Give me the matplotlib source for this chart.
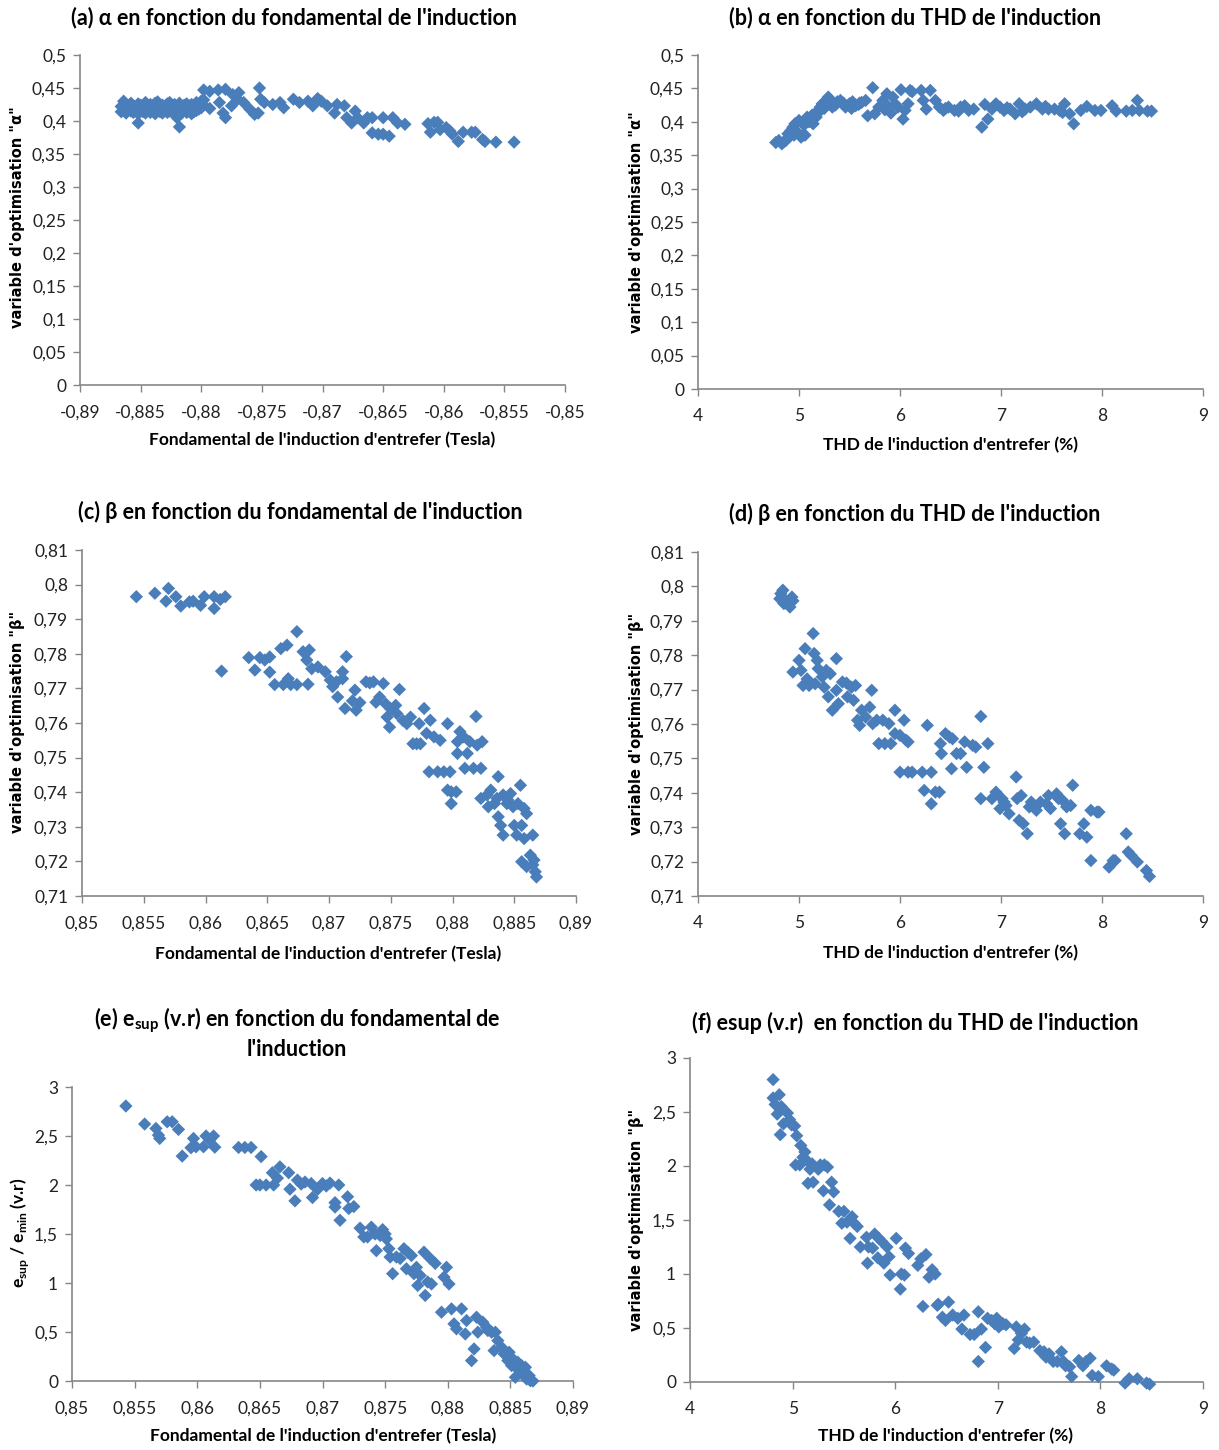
import matplotlib
matplotlib.use("Agg")
from matplotlib import pyplot as plt
from matplotlib.ticker import FuncFormatter, MultipleLocator

plt.rcParams["font.family"] = ["Lato", "DejaVu Sans"]
plt.rcParams["mathtext.fontset"] = "custom"
plt.rcParams["mathtext.rm"] = "Lato"
plt.rcParams["mathtext.bf"] = "Lato:bold"

W, H = 1219, 1450
BLUE = "#4a7ebb"
GRAY = "#868686"

# (a) alpha vs fundamental (negative)
a_fund = [-0.8866, -0.8864, -0.8862, -0.8860, -0.8858, -0.8856, -0.8854, -0.8852, -0.8850, -0.8848,
          -0.8846, -0.8844, -0.8842, -0.8840, -0.8838, -0.8836, -0.8834, -0.8832, -0.8830, -0.8828,
          -0.8826, -0.8824, -0.8822, -0.8820, -0.8818, -0.8816, -0.8814, -0.8812, -0.8810, -0.8808,
          -0.8806, -0.8804, -0.8802, -0.8800, -0.8798,
          -0.8866, -0.8864, -0.8862, -0.8860, -0.8858, -0.8856, -0.8854, -0.8852, -0.8850, -0.8848,
          -0.8846, -0.8844, -0.8842, -0.8840, -0.8838, -0.8836, -0.8834, -0.8832, -0.8830, -0.8828,
          -0.8826, -0.8824, -0.8822, -0.8820, -0.8818, -0.8816, -0.8814, -0.8812, -0.8810, -0.8808,
          -0.8806, -0.8804, -0.8802, -0.8800, -0.8798,
          -0.8852, -0.8818, -0.8820,
          -0.8798, -0.8793, -0.8786, -0.8780, -0.8774, -0.8769, -0.8793, -0.8785, -0.8782, -0.8780,
          -0.8775, -0.8770, -0.8765, -0.8760, -0.8756, -0.8753, -0.8752, -0.8751, -0.8748, -0.8741,
          -0.8735, -0.8732, -0.8724, -0.8719, -0.8712, -0.8708, -0.8704, -0.8701, -0.8696, -0.8690,
          -0.8688, -0.8682, -0.8680, -0.8676, -0.8673, -0.8671, -0.8666, -0.8663, -0.8659, -0.8659,
          -0.8654, -0.8650, -0.8650, -0.8645, -0.8642, -0.8638, -0.8632, -0.8613, -0.8611, -0.8608,
          -0.8605, -0.8603, -0.8598, -0.8595, -0.8593, -0.8588, -0.8584, -0.8577, -0.8574, -0.8568,
          -0.8566, -0.8557, -0.8542]
a_alpha = [0.422, 0.430, 0.425, 0.421, 0.427, 0.423, 0.420, 0.426, 0.424, 0.422,
           0.428, 0.421, 0.425, 0.423, 0.427, 0.429, 0.422, 0.424, 0.421, 0.426,
           0.428, 0.423, 0.425, 0.422, 0.427, 0.420, 0.424, 0.426, 0.423, 0.425,
           0.421, 0.428, 0.426, 0.430, 0.432,
           0.414, 0.416, 0.412, 0.418, 0.415, 0.413, 0.417, 0.411, 0.416, 0.414,
           0.412, 0.418, 0.413, 0.415, 0.411, 0.417, 0.414, 0.412, 0.416, 0.413,
           0.415, 0.418, 0.411, 0.414, 0.416, 0.412, 0.417, 0.413, 0.415, 0.411,
           0.414, 0.416, 0.418, 0.420, 0.424,
           0.397, 0.391, 0.405,
           0.447, 0.445, 0.447, 0.448, 0.440, 0.443, 0.419, 0.428, 0.412, 0.405,
           0.423, 0.433, 0.428, 0.418, 0.410, 0.412, 0.450, 0.433, 0.428, 0.425,
           0.428, 0.420, 0.433, 0.428, 0.430, 0.423, 0.434, 0.430, 0.423, 0.412,
           0.425, 0.423, 0.405, 0.397, 0.415, 0.405, 0.397, 0.405, 0.405, 0.382,
           0.380, 0.405, 0.380, 0.377, 0.405, 0.397, 0.395, 0.396, 0.383, 0.398,
           0.398, 0.387, 0.390, 0.385, 0.380, 0.369, 0.383, 0.383, 0.383, 0.372,
           0.369, 0.368, 0.368]

# (b) alpha vs THD
b_thd = [4.77, 4.80, 4.83, 4.85, 4.87, 4.89, 4.90, 4.92, 4.94, 4.96, 4.98, 5.00, 5.02, 5.04, 5.06,
         5.08, 5.10, 5.12, 5.14, 5.16, 5.17, 5.19, 5.21, 5.23, 5.25, 5.27, 5.29, 5.31, 5.33, 5.35,
         5.38, 5.41, 5.44, 5.46, 5.50, 5.53, 5.56, 5.59, 5.62, 5.66, 5.68, 5.73, 5.75, 5.79, 5.83,
         5.87, 5.89, 5.93, 5.95, 5.98, 6.01, 6.03, 6.05, 6.08, 6.10, 6.12, 6.21, 6.23, 6.26, 6.30,
         6.35, 6.39, 6.43, 6.48, 6.54, 6.60, 6.64, 6.68, 6.73, 6.81, 6.84, 6.87, 6.91, 6.95, 6.99,
         7.03, 7.09, 7.14, 7.18, 7.24, 7.29, 7.35, 7.41, 7.47, 7.53, 7.58, 7.63, 7.68, 7.72, 7.79,
         7.85, 7.93, 7.99, 8.10, 8.14, 8.24, 8.30, 8.35, 8.37, 8.45, 8.49,
         4.95, 5.05, 5.13, 5.22, 5.30, 5.36, 5.52, 5.60, 5.85, 5.91, 6.45, 6.58, 7.06, 7.21, 7.44, 7.61]
b_alpha = [0.369, 0.372, 0.367, 0.370, 0.372, 0.382, 0.377, 0.387, 0.392, 0.397, 0.385, 0.402, 0.377, 0.380, 0.380,
           0.407, 0.400, 0.405, 0.397, 0.412, 0.407, 0.417, 0.422, 0.427, 0.420, 0.432, 0.437, 0.428, 0.422, 0.427,
           0.430, 0.432, 0.428, 0.422, 0.427, 0.430, 0.424, 0.426, 0.429, 0.432, 0.409, 0.451, 0.412, 0.422, 0.432,
           0.442, 0.422, 0.437, 0.427, 0.422, 0.448, 0.404, 0.417, 0.427, 0.447, 0.445, 0.447, 0.432, 0.419, 0.447,
           0.432, 0.422, 0.417, 0.422, 0.417, 0.422, 0.424, 0.417, 0.419, 0.392, 0.426, 0.404, 0.419, 0.427, 0.422,
           0.417, 0.419, 0.412, 0.427, 0.419, 0.422, 0.427, 0.419, 0.419, 0.419, 0.417, 0.427, 0.412, 0.397, 0.417,
           0.423, 0.417, 0.417, 0.424, 0.416, 0.416, 0.417, 0.432, 0.417, 0.416, 0.416,
           0.380, 0.395, 0.410, 0.418, 0.433, 0.425, 0.420, 0.428, 0.418, 0.413, 0.420, 0.416, 0.421, 0.415, 0.423, 0.414]

# (c) beta vs fundamental
c_fund = [0.8544, 0.8559, 0.8568, 0.8570, 0.8576, 0.8580, 0.8587, 0.8590, 0.8596, 0.8599, 0.8607, 0.8607,
          0.8612, 0.8616, 0.8613, 0.8635, 0.8640, 0.8644, 0.8648, 0.8652, 0.8652, 0.8656, 0.8661, 0.8666,
          0.8663, 0.8667, 0.8669, 0.8674, 0.8674, 0.8679, 0.8682, 0.8683, 0.8684, 0.8686, 0.8691, 0.8697,
          0.8701, 0.8703, 0.8706, 0.8707, 0.8711, 0.8711, 0.8714, 0.8713, 0.8719, 0.8721, 0.8722, 0.8725,
          0.8730, 0.8733, 0.8736, 0.8738, 0.8741, 0.8744, 0.8746, 0.8747, 0.8749, 0.8750, 0.8754, 0.8755,
          0.8757, 0.8760, 0.8763, 0.8766, 0.8768, 0.8771, 0.8774, 0.8773, 0.8777, 0.8779, 0.8781, 0.8782,
          0.8785, 0.8788, 0.8790, 0.8793, 0.8796, 0.8798, 0.8796, 0.8799, 0.8799, 0.8803, 0.8804, 0.8804,
          0.8806, 0.8809, 0.8810, 0.8812, 0.8814, 0.8817, 0.8819, 0.8820, 0.8823, 0.8824, 0.8823, 0.8828,
          0.8829, 0.8831, 0.8834, 0.8836, 0.8837, 0.8837, 0.8839, 0.8841, 0.8841, 0.8844, 0.8845, 0.8847,
          0.8849, 0.8850, 0.8852, 0.8853, 0.8855, 0.8856, 0.8858, 0.8858, 0.8860, 0.8856, 0.8860, 0.8865,
          0.8863, 0.8866, 0.8867, 0.8868, 0.8865]
c_beta = [0.7965, 0.7975, 0.7952, 0.7989, 0.7965, 0.7938, 0.7950, 0.7952, 0.7940, 0.7965, 0.7931, 0.7965,
          0.7957, 0.7965, 0.7750, 0.7789, 0.7753, 0.7789, 0.7782, 0.7791, 0.7747, 0.7711, 0.7815, 0.7825,
          0.7711, 0.7728, 0.7711, 0.7864, 0.7711, 0.7806, 0.7782, 0.7712, 0.7811, 0.7757, 0.7762, 0.7748,
          0.7724, 0.7705, 0.7719, 0.7675, 0.7748, 0.7728, 0.7792, 0.7642, 0.7664, 0.7695, 0.7637, 0.7659,
          0.7719, 0.7716, 0.7719, 0.7660, 0.7675, 0.7714, 0.7655, 0.7617, 0.7588, 0.7641, 0.7651, 0.7627,
          0.7697, 0.7607, 0.7598, 0.7617, 0.7540, 0.7540, 0.7540, 0.7598, 0.7642, 0.7570, 0.7459, 0.7608,
          0.7560, 0.7459, 0.7550, 0.7459, 0.7598, 0.7459, 0.7406, 0.7367, 0.7401, 0.7401, 0.7512, 0.7546,
          0.7575, 0.7560, 0.7469, 0.7512, 0.7546, 0.7469, 0.7619, 0.7536, 0.7469, 0.7546, 0.7382, 0.7392,
          0.7358, 0.7406, 0.7367, 0.7382, 0.7445, 0.7329, 0.7304, 0.7276, 0.7392, 0.7367, 0.7377, 0.7396,
          0.7358, 0.7304, 0.7276, 0.7367, 0.7420, 0.7304, 0.7266, 0.7353, 0.7338, 0.7199, 0.7185, 0.7276,
          0.7218, 0.7204, 0.7170, 0.7155, 0.7190]

# (d) beta vs THD
d_thd = [4.81, 4.84, 4.87, 4.91, 4.93, 4.94, 4.89, 4.85, 4.82, 4.94, 5.00, 5.02, 5.04, 5.06, 5.08, 5.10,
         5.14, 5.15, 5.16, 5.18, 5.19, 5.23, 5.25, 5.27, 5.29, 5.31, 5.33, 5.37, 5.37, 5.39, 5.43, 5.47,
         5.48, 5.52, 5.54, 5.56, 5.58, 5.60, 5.62, 5.66, 5.70, 5.72, 5.73, 5.77, 5.79, 5.83, 5.85, 5.89,
         5.91, 5.95, 5.95, 6.00, 6.00, 6.04, 6.06, 6.08, 6.12, 6.08, 6.22, 6.24, 6.27, 6.31, 6.31, 6.35,
         6.39, 6.40, 6.41, 6.45, 6.49, 6.51, 6.52, 6.56, 6.60, 6.64, 6.66, 6.72, 6.75, 6.80, 6.80, 6.83,
         6.87, 6.91, 6.95, 6.99, 7.01, 7.03, 7.05, 7.08, 7.15, 7.16, 7.18, 7.20, 7.22, 7.26, 7.28, 7.30,
         7.33, 7.35, 7.39, 7.45, 7.47, 7.49, 7.55, 7.57, 7.59, 7.61, 7.63, 7.65, 7.69, 7.71, 7.78, 7.82,
         7.85, 7.89, 7.89, 7.95, 7.97, 8.07, 8.11, 8.13, 8.24, 8.26, 8.29, 8.35, 8.44, 8.47]
d_beta = [0.7964, 0.7989, 0.7958, 0.7940, 0.7969, 0.7958, 0.7950, 0.7950, 0.7979, 0.7751, 0.7785, 0.7756,
          0.7712, 0.7819, 0.7731, 0.7712, 0.7863, 0.7805, 0.7717, 0.7785, 0.7761, 0.7737, 0.7707, 0.7756,
          0.7679, 0.7746, 0.7640, 0.7790, 0.7698, 0.7659, 0.7722, 0.7719, 0.7679, 0.7707, 0.7669, 0.7712,
          0.7611, 0.7596, 0.7640, 0.7620, 0.7649, 0.7698, 0.7601, 0.7611, 0.7543, 0.7611, 0.7543, 0.7601,
          0.7543, 0.7572, 0.7640, 0.7567, 0.7460, 0.7611, 0.7553, 0.7460, 0.7460, 0.7548, 0.7460, 0.7407,
          0.7596, 0.7460, 0.7368, 0.7402, 0.7402, 0.7543, 0.7514, 0.7572, 0.7562, 0.7470, 0.7557, 0.7514,
          0.7514, 0.7548, 0.7474, 0.7538, 0.7533, 0.7622, 0.7383, 0.7474, 0.7543, 0.7383, 0.7402, 0.7354,
          0.7383, 0.7373, 0.7363, 0.7339, 0.7446, 0.7383, 0.7320, 0.7392, 0.7310, 0.7281, 0.7359, 0.7373,
          0.7363, 0.7349, 0.7373, 0.7368, 0.7392, 0.7354, 0.7397, 0.7383, 0.7310, 0.7378, 0.7281, 0.7359,
          0.7363, 0.7422, 0.7281, 0.7310, 0.7271, 0.7203, 0.7349, 0.7344, 0.7344, 0.7184, 0.7203, 0.7203,
          0.7281, 0.7228, 0.7218, 0.7199, 0.7174, 0.7157]

# (e) esup/emin vs fundamental
e_fund = [0.8543, 0.8558, 0.8567, 0.8569, 0.8570, 0.8576, 0.8580, 0.8585, 0.8588, 0.8595, 0.8597, 0.8599,
          0.8605, 0.8607, 0.8610, 0.8613, 0.8614, 0.8633, 0.8638, 0.8643, 0.8651, 0.8647, 0.8650, 0.8655,
          0.8660, 0.8661, 0.8664, 0.8666, 0.8673, 0.8674, 0.8678, 0.8680, 0.8683, 0.8686, 0.8691, 0.8692,
          0.8696, 0.8700, 0.8703, 0.8706, 0.8710, 0.8710, 0.8713, 0.8714, 0.8720, 0.8721, 0.8725, 0.8730,
          0.8733, 0.8736, 0.8739, 0.8742, 0.8743, 0.8746, 0.8748, 0.8750, 0.8751, 0.8753, 0.8754, 0.8756,
          0.8759, 0.8762, 0.8765, 0.8767, 0.8768, 0.8771, 0.8773, 0.8775, 0.8776, 0.8778, 0.8781, 0.8782,
          0.8784, 0.8786, 0.8787, 0.8790, 0.8795, 0.8797, 0.8799, 0.8801, 0.8803, 0.8805, 0.8807, 0.8811,
          0.8814, 0.8815, 0.8819, 0.8821, 0.8823, 0.8824, 0.8828, 0.8831, 0.8832, 0.8835, 0.8837, 0.8838,
          0.8840, 0.8843, 0.8845, 0.8848, 0.8849, 0.8851, 0.8852, 0.8854, 0.8856, 0.8857, 0.8859, 0.8860,
          0.8862, 0.8863, 0.8865, 0.8866, 0.8868]
e_esup = [2.806, 2.622, 2.577, 2.509, 2.475, 2.645, 2.645, 2.567, 2.295, 2.380, 2.475, 2.390,
          2.390, 2.500, 2.460, 2.500, 2.386, 2.383, 2.383, 2.383, 2.290, 2.000, 2.000, 2.000,
          2.125, 2.000, 2.070, 2.185, 2.125, 1.957, 1.838, 2.050, 2.010, 2.030, 2.015, 1.872,
          1.955, 2.015, 1.990, 2.020, 1.820, 1.775, 2.000, 1.640, 1.880, 1.760, 1.780, 1.560,
          1.470, 1.470, 1.570, 1.500, 1.330, 1.485, 1.545, 1.500, 1.450, 1.350, 1.265, 1.095,
          1.265, 1.250, 1.350, 1.145, 1.315, 1.280, 1.095, 1.160, 0.975, 1.077, 1.315, 0.873,
          1.010, 1.250, 0.990, 1.200, 0.702, 1.060, 1.160, 0.990, 0.736, 0.583, 0.532, 0.736,
          0.480, 0.617, 0.208, 0.327, 0.651, 0.498, 0.600, 0.549, 0.515, 0.498, 0.310, 0.498,
          0.412, 0.344, 0.276, 0.208, 0.293, 0.157, 0.225, 0.038, 0.191, 0.106, 0.157, 0.072,
          0.140, 0.020, 0.055, 0.003, 0.000]

# (f) esup/emin vs THD
f_thd = [4.81, 4.81, 4.83, 4.87, 4.85, 4.88, 4.89, 4.91, 4.95, 4.97, 4.99, 5.02, 5.03, 5.04, 5.07, 5.08,
         5.10, 5.12, 5.14, 5.15, 5.17, 5.19, 5.20, 5.25, 5.27, 5.30, 5.31, 5.34, 5.36, 5.38, 5.40, 5.45,
         5.48, 5.50, 5.53, 5.56, 5.58, 5.60, 5.63, 5.66, 5.72, 5.73, 5.74, 5.78, 5.80, 5.83, 5.84, 5.87,
         5.89, 5.92, 5.94, 5.95, 6.01, 6.05, 6.06, 6.09, 6.10, 6.13, 6.22, 6.25, 6.27, 6.30, 6.33, 6.36,
         6.39, 6.41, 6.42, 6.46, 6.49, 6.52, 6.56, 6.61, 6.65, 6.67, 6.73, 6.77, 6.81, 6.81, 6.84, 6.88,
         6.90, 6.94, 6.97, 6.99, 7.01, 7.05, 7.08, 7.16, 7.18, 7.20, 7.23, 7.26, 7.28, 7.31, 7.35, 7.41,
         7.45, 7.47, 7.50, 7.54, 7.58, 7.62, 7.64, 7.66, 7.70, 7.72, 7.79, 7.83, 7.86, 7.90, 7.92, 7.98,
         8.06, 8.11, 8.13, 8.24, 8.28, 8.36, 8.45, 8.48]
f_esup = [2.80, 2.63, 2.57, 2.66, 2.48, 2.29, 2.55, 2.39, 2.49, 2.43, 2.38, 2.37, 2.01, 2.28, 2.01, 2.19,
          2.08, 2.13, 2.05, 1.84, 1.97, 2.02, 1.85, 1.97, 2.01, 1.77, 2.01, 1.99, 1.64, 1.85, 1.76, 1.58,
          1.47, 1.58, 1.48, 1.33, 1.53, 1.47, 1.44, 1.25, 1.34, 1.10, 1.25, 1.24, 1.37, 1.15, 1.33, 1.30,
          1.10, 1.25, 1.16, 0.99, 1.33, 0.86, 1.00, 0.99, 1.24, 1.19, 1.08, 1.14, 0.70, 1.18, 0.97, 1.04,
          1.00, 0.71, 0.72, 0.60, 0.57, 0.74, 0.62, 0.59, 0.49, 0.62, 0.44, 0.44, 0.65, 0.19, 0.49, 0.32,
          0.59, 0.57, 0.54, 0.59, 0.51, 0.54, 0.53, 0.31, 0.51, 0.39, 0.45, 0.49, 0.37, 0.36, 0.37, 0.29,
          0.28, 0.23, 0.26, 0.19, 0.19, 0.28, 0.19, 0.15, 0.14, 0.05, 0.20, 0.15, 0.19, 0.22, 0.06, 0.05,
          0.15, 0.12, 0.11, -0.01, 0.03, 0.03, -0.01, -0.02]


def fmt(v, pos):
    s = f"{round(v, 4):.4f}".rstrip("0").rstrip(".")
    if s in ("-0", ""):
        s = "0"
    return s.replace(".", ",")


def make_axes(fig, l, t, r, b, x, y, xlim, xstep, ylim, ystep):
    ax = fig.add_axes([l / W, 1 - b / H, (r - l) / W, (b - t) / H])
    ax.scatter(x, y, marker="D", s=46, color=BLUE, edgecolors="none", clip_on=False, zorder=3)
    ax.set_xlim(*xlim)
    ax.set_ylim(*ylim)
    ax.xaxis.set_major_locator(MultipleLocator(xstep))
    ax.yaxis.set_major_locator(MultipleLocator(ystep))
    ax.xaxis.set_major_formatter(FuncFormatter(fmt))
    ax.yaxis.set_major_formatter(FuncFormatter(fmt))
    for side in ("top", "right"):
        ax.spines[side].set_visible(False)
    for side in ("left", "bottom"):
        ax.spines[side].set_color(GRAY)
        ax.spines[side].set_linewidth(1.2)
    ax.tick_params(direction="out", length=5, width=1, color=GRAY, labelsize=12.5,
                   labelcolor="#222222")
    ax.tick_params(axis="x", pad=9)
    ax.tick_params(axis="y", pad=5)
    return ax


fig = plt.figure(figsize=(W / 100, H / 100), dpi=100)

make_axes(fig, 80, 55, 565, 385, a_fund, a_alpha, (-0.89, -0.85), 0.005, (0, 0.5), 0.05)
make_axes(fig, 698, 55, 1203, 389, b_thd, b_alpha, (4, 9), 1, (0, 0.5), 0.05)
make_axes(fig, 82, 550, 576, 896, c_fund, c_beta, (0.85, 0.89), 0.005, (0.71, 0.81), 0.01)
make_axes(fig, 698, 552, 1203, 896, d_thd, d_beta, (4, 9), 1, (0.71, 0.81), 0.01)
make_axes(fig, 72, 1087, 573, 1381, e_fund, e_esup, (0.85, 0.89), 0.005, (0, 3), 0.5)
make_axes(fig, 690, 1058, 1203, 1382, f_thd, f_esup, (4, 9), 1, (0, 3), 0.5)


def ftext(x, y, s, size, rot=0, **kw):
    fig.text(x / W, 1 - y / H, s, fontsize=size, rotation=rot, ha="center", va="center",
             fontweight="bold", color="black", **kw)


# titles
ftext(294, 18, "(a) α en fonction du fondamental de l'induction", 15.5)
ftext(915, 18, "(b) α en fonction du THD de l'induction", 15.5)
ftext(300, 512, "(c) β en fonction du fondamental de l'induction", 15.5)
ftext(915, 514, "(d) β en fonction du THD de l'induction", 15.5)
ftext(297, 1020, "(e) e$_{\\mathregular{sup}}$ (v.r) en fonction du fondamental de", 15.5)
ftext(297, 1050, "l'induction", 15.5)
ftext(915, 1023, "(f) esup (v.r)  en fonction du THD de l'induction", 15.5)

# x labels
ftext(322, 440, "Fondamental de l'induction d'entrefer (Tesla)", 12.5)
ftext(951, 445, "THD de l'induction d'entrefer (%)", 12.5)
ftext(328, 954, "Fondamental de l'induction d'entrefer (Tesla)", 12.5)
ftext(951, 953, "THD de l'induction d'entrefer (%)", 12.5)
ftext(323, 1436, "Fondamental de l'induction d'entrefer (Tesla)", 12.5)
ftext(946, 1436, "THD de l'induction d'entrefer (%)", 12.5)

# y labels (wider sans, like the original)
yl = dict(family=["DejaVu Sans"])
ftext(18, 217, "variable d'optimisation \"α\"", 10.5, 90, **yl)
ftext(636, 222, "variable d'optimisation \"α\"", 10.5, 90, **yl)
ftext(18, 722, "variable d'optimisation \"β\"", 10.5, 90, **yl)
ftext(636, 724, "variable d'optimisation \"β\"", 10.5, 90, **yl)
ftext(20, 1233, "e$_{\\mathbf{sup}}$ / e$_{\\mathbf{min}}$ (v.r)", 12.5, 90)
ftext(636, 1220, "variable d'optimisation \"β\"", 10.5, 90, **yl)

fig.savefig("out.png", dpi=100)
